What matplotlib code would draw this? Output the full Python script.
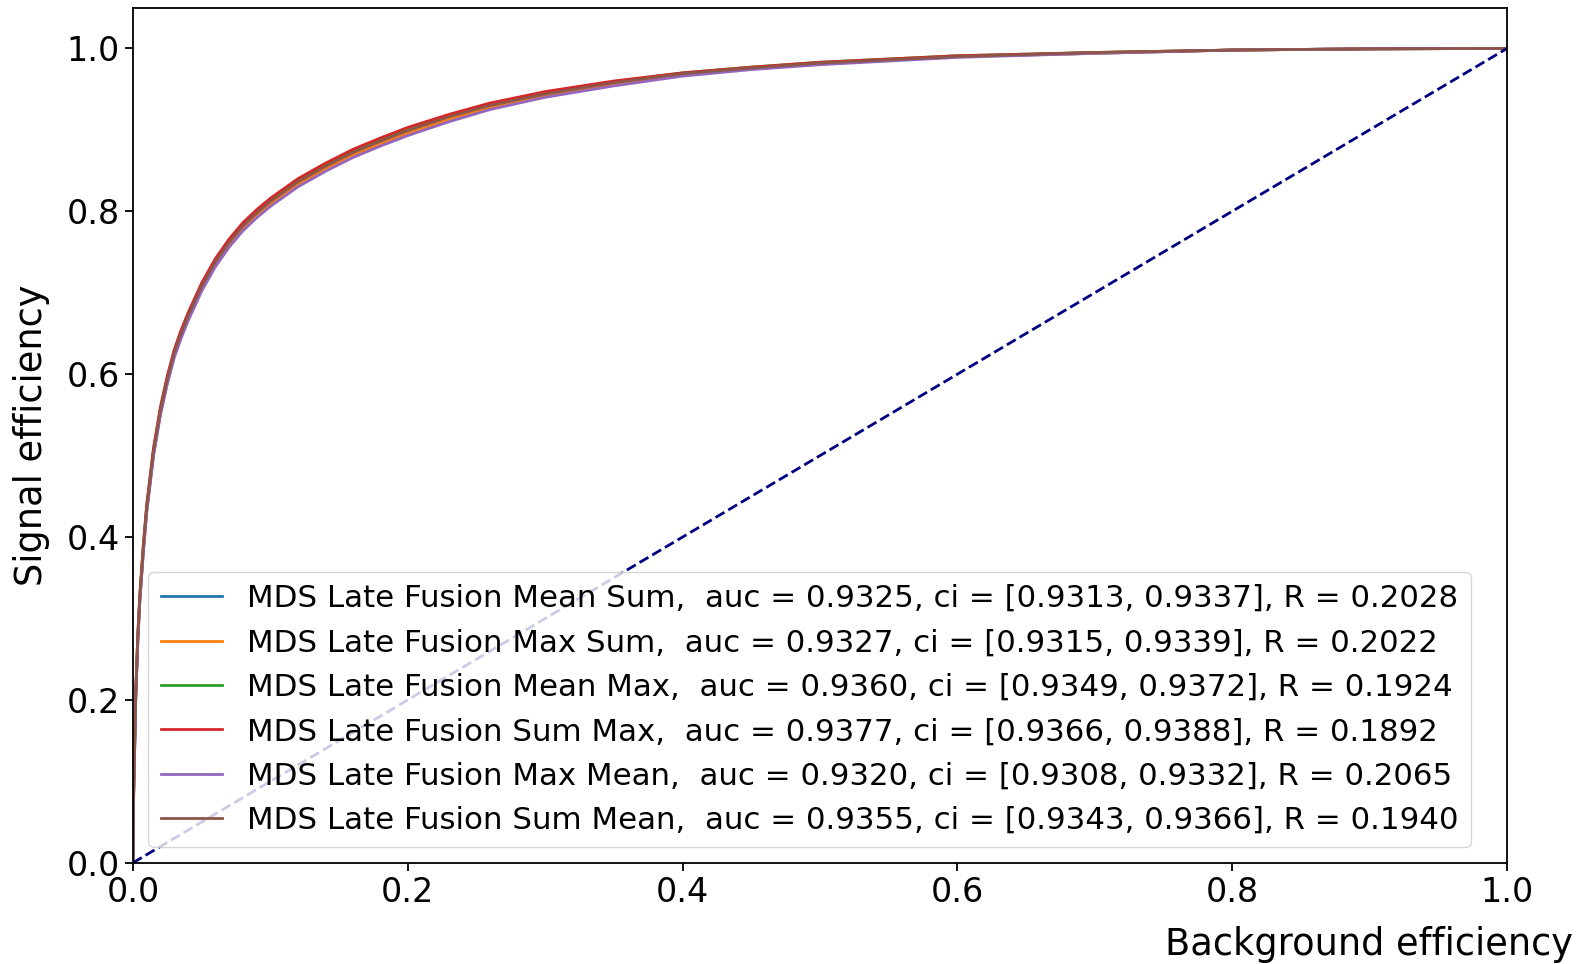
#!/usr/bin/env python3

import matplotlib
matplotlib.use("Agg")
import matplotlib.pyplot as plt

# background efficiency (false positive rate) sample points
fpr = [0, 0.0005, 0.001, 0.002, 0.0035, 0.005, 0.0075, 0.01, 0.015, 0.02, 0.025, 0.03,
       0.035, 0.04, 0.05, 0.06, 0.07, 0.08, 0.09, 0.10, 0.12, 0.14, 0.16, 0.18, 0.20,
       0.23, 0.26, 0.30, 0.35, 0.40, 0.45, 0.50, 0.60, 0.70, 0.80, 0.90, 1.0]

# signal efficiency, one list per model
tpr_mean_sum = [0, .085, .123, .202, .272, .322, .382, .432, .502, .552, .590, .622,
                .646, .667, .704, .734, .758, .778, .794, .808, .832, .851, .868, .882, .895,
                .912, .927, .941, .955, .967, .975, .981, .990, .994, .998, .9995, 1]
tpr_max_sum = [0, .085, .124, .203, .273, .323, .383, .433, .503, .553, .591, .623,
               .647, .668, .705, .735, .759, .779, .795, .809, .833, .852, .869, .883, .896,
               .913, .928, .942, .956, .967, .975, .981, .990, .994, .998, .9995, 1]
tpr_mean_max = [0, .089, .129, .208, .278, .328, .388, .438, .508, .558, .596, .628,
                .652, .673, .710, .740, .764, .784, .800, .814, .838, .857, .874, .888, .901,
                .918, .932, .946, .959, .970, .977, .983, .991, .995, .998, .9995, 1]
tpr_sum_max = [0, .090, .130, .210, .280, .330, .390, .440, .510, .560, .598, .630,
               .654, .675, .712, .742, .766, .786, .802, .816, .840, .859, .876, .890, .903,
               .919, .933, .947, .960, .970, .977, .983, .991, .995, .998, .9995, 1]
tpr_max_mean = [0, .082, .120, .200, .270, .320, .380, .430, .500, .550, .588, .620,
                .644, .665, .702, .732, .756, .776, .792, .806, .830, .849, .866, .880, .893,
                .910, .925, .940, .954, .966, .974, .980, .989, .994, .998, .9995, 1]
tpr_sum_mean = [0, .087, .127, .206, .276, .326, .386, .436, .506, .556, .594, .626,
                .650, .671, .708, .738, .762, .782, .798, .812, .836, .855, .872, .886, .899,
                .916, .930, .944, .958, .969, .976, .982, .990, .995, .998, .9995, 1]

names = ["MDS Late Fusion Mean Sum", "MDS Late Fusion Max Sum",
         "MDS Late Fusion Mean Max", "MDS Late Fusion Sum Max",
         "MDS Late Fusion Max Mean", "MDS Late Fusion Sum Mean"]
auc = ["0.9325", "0.9327", "0.9360", "0.9377", "0.9320", "0.9355"]
ci_lo = ["0.9313", "0.9315", "0.9349", "0.9366", "0.9308", "0.9343"]
ci_hi = ["0.9337", "0.9339", "0.9372", "0.9388", "0.9332", "0.9366"]
R = ["0.2028", "0.2022", "0.1924", "0.1892", "0.2065", "0.1940"]

curves = [tpr_mean_sum, tpr_max_sum, tpr_mean_max, tpr_sum_max, tpr_max_mean, tpr_sum_mean]

fig = plt.figure(figsize=(15.83, 9.64), dpi=100)
ax = fig.add_axes([0.084, 0.105, 0.868, 0.887])

for i, tpr in enumerate(curves):
    label = "%s,  auc = %s, ci = [%s, %s], R = %s" % (names[i], auc[i], ci_lo[i], ci_hi[i], R[i])
    ax.plot(fpr, tpr, lw=2, label=label)

ax.plot([0, 1], [0, 1], color='navy', lw=2, linestyle='--')

ax.set_xlim(0.0, 1.0)
ax.set_ylim(0.0, 1.05)
ax.tick_params(labelsize=24, length=6, width=1.3)
for s in ax.spines.values():
    s.set_linewidth(1.3)
ax.set_xlabel("Background efficiency", fontsize=26.5, ha='right', x=1.048, labelpad=12)
ax.set_ylabel("Signal efficiency", fontsize=26.5, labelpad=12)
ax.legend(loc='lower left', fontsize=22.2)

fig.savefig("out.png", dpi=100)

# EOF
